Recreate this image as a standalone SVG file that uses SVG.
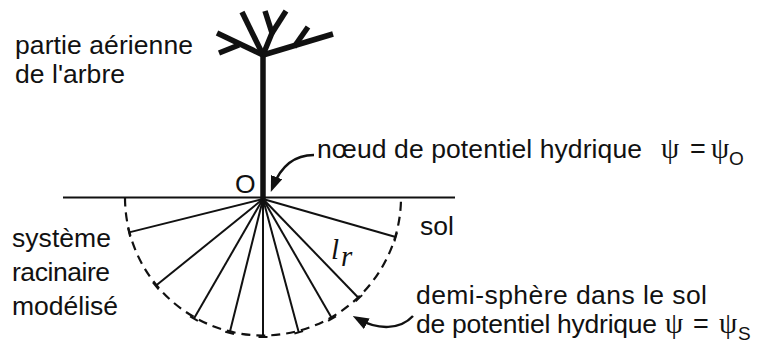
<svg xmlns="http://www.w3.org/2000/svg" width="768" height="344" viewBox="0 0 768 344">
  <style>
    .txt { font-family: "Liberation Sans", Arial, sans-serif; font-size: 26.5px; fill: #111; }
    .sym { font-family: "Liberation Serif", "DejaVu Serif", serif; font-size: 29px; fill: #111; }
    .eq { font-family: "Liberation Sans", Arial, sans-serif; font-size: 27px; fill: #111; }
    .sub { font-family: "Liberation Sans", Arial, sans-serif; font-size: 19px; fill: #111; }
    .ln { stroke: #111; fill: none; }
    .branch { stroke: #111; stroke-width: 5.5; fill: none; stroke-linecap: butt; }
    .root { stroke: #111; stroke-width: 2; fill: none; }
    .arrow { stroke: #111; stroke-width: 2.5; fill: none; marker-end: url(#head); }
  </style>
  <defs>
    <marker id="head" viewBox="0 0 16 12" markerWidth="16" markerHeight="12" refX="10" refY="6" orient="auto" markerUnits="userSpaceOnUse">
      <path d="M0,0 L16,6 L0,12 Z" fill="#111"/>
    </marker>
    <!-- one root: stem from the node plus an end bar -->
    <g id="rootShape">
      <line class="root" x1="0" y1="0" x2="138" y2="0"/>
      <line class="root" x1="138" y1="-4.5" x2="138" y2="4.5"/>
    </g>
  </defs>
  <rect width="768" height="344" fill="#fff"/>

  <!-- soil surface -->
  <g id="ground">
    <line class="ln" x1="63" y1="197.5" x2="455" y2="197.5" stroke-width="1.8"/>
  </g>

  <!-- aerial part of the tree -->
  <g id="tree">
    <line class="branch" x1="263" y1="199" x2="263" y2="53"/>
    <line class="branch" x1="263" y1="55" x2="217" y2="33"/>
    <line class="branch" x1="239" y1="45" x2="219" y2="53"/>
    <line class="branch" x1="263" y1="55" x2="242" y2="12"/>
    <polyline class="branch" points="263,55 272,33 265,11"/>
    <line class="branch" x1="272" y1="33" x2="286" y2="11"/>
    <line class="branch" x1="263" y1="55" x2="333" y2="34"/>
    <line class="branch" x1="294" y1="47" x2="308" y2="27"/>
  </g>

  <!-- modelled root system -->
  <g id="roots" transform="translate(263 199)">
    <use href="#rootShape" transform="rotate(166)"/>
    <use href="#rootShape" transform="rotate(141)"/>
    <use href="#rootShape" transform="rotate(120)"/>
    <use href="#rootShape" transform="rotate(104)"/>
    <use href="#rootShape" transform="rotate(90)"/>
    <use href="#rootShape" transform="rotate(75)"/>
    <use href="#rootShape" transform="rotate(60)"/>
    <use href="#rootShape" transform="rotate(46)"/>
    <use href="#rootShape" transform="rotate(16)"/>
  </g>

  <!-- soil half-sphere -->
  <g id="hemisphere">
    <path class="ln" d="M125 197.5 A138 138 0 0 0 401 197.5" stroke-width="2.2" stroke-dasharray="9 6"/>
  </g>

  <!-- connectors -->
  <g id="connectors">
    <path class="arrow" d="M314 155 C295 155 281 166 273 186.5"/>
    <path class="arrow" d="M413 316 C400 330 378 330 358 319"/>
  </g>

  <!-- labels -->
  <g id="label-aerial">
    <text class="txt" x="15" y="54" textLength="178">partie aérienne</text>
    <text class="txt" x="15" y="83" textLength="110">de l'arbre</text>
  </g>
  <g id="label-O">
    <text class="txt" x="235" y="193">O</text>
  </g>
  <g id="label-node">
    <text class="txt" x="317" y="158" textLength="325">nœud de potentiel hydrique</text>
    <text class="sym" x="661" y="158">ψ</text>
    <text class="eq" x="690" y="158">=</text>
    <text class="sym" x="711" y="158">ψ</text>
    <text class="sub" x="729" y="165">O</text>
  </g>
  <g id="label-roots">
    <text class="txt" x="12" y="247" textLength="99">système</text>
    <text class="txt" x="12" y="281" textLength="98">racinaire</text>
    <text class="txt" x="12" y="315" textLength="106">modélisé</text>
  </g>
  <g id="label-sol">
    <text class="txt" x="420" y="235">sol</text>
  </g>
  <g id="label-lr">
    <text class="sym" x="331" y="259" font-style="italic" font-size="28">l</text>
    <text class="sym" x="341" y="266" font-style="italic" font-size="19">r</text>
  </g>
  <g id="label-sphere">
    <text class="txt" x="416" y="304" textLength="291">demi-sphère dans le sol</text>
    <text class="txt" x="416" y="333" textLength="241">de potentiel hydrique</text>
    <text class="sym" x="665" y="333">ψ</text>
    <text class="eq" x="693" y="333">=</text>
    <text class="sym" x="719" y="333">ψ</text>
    <text class="sub" x="738" y="340">S</text>
  </g>
</svg>
